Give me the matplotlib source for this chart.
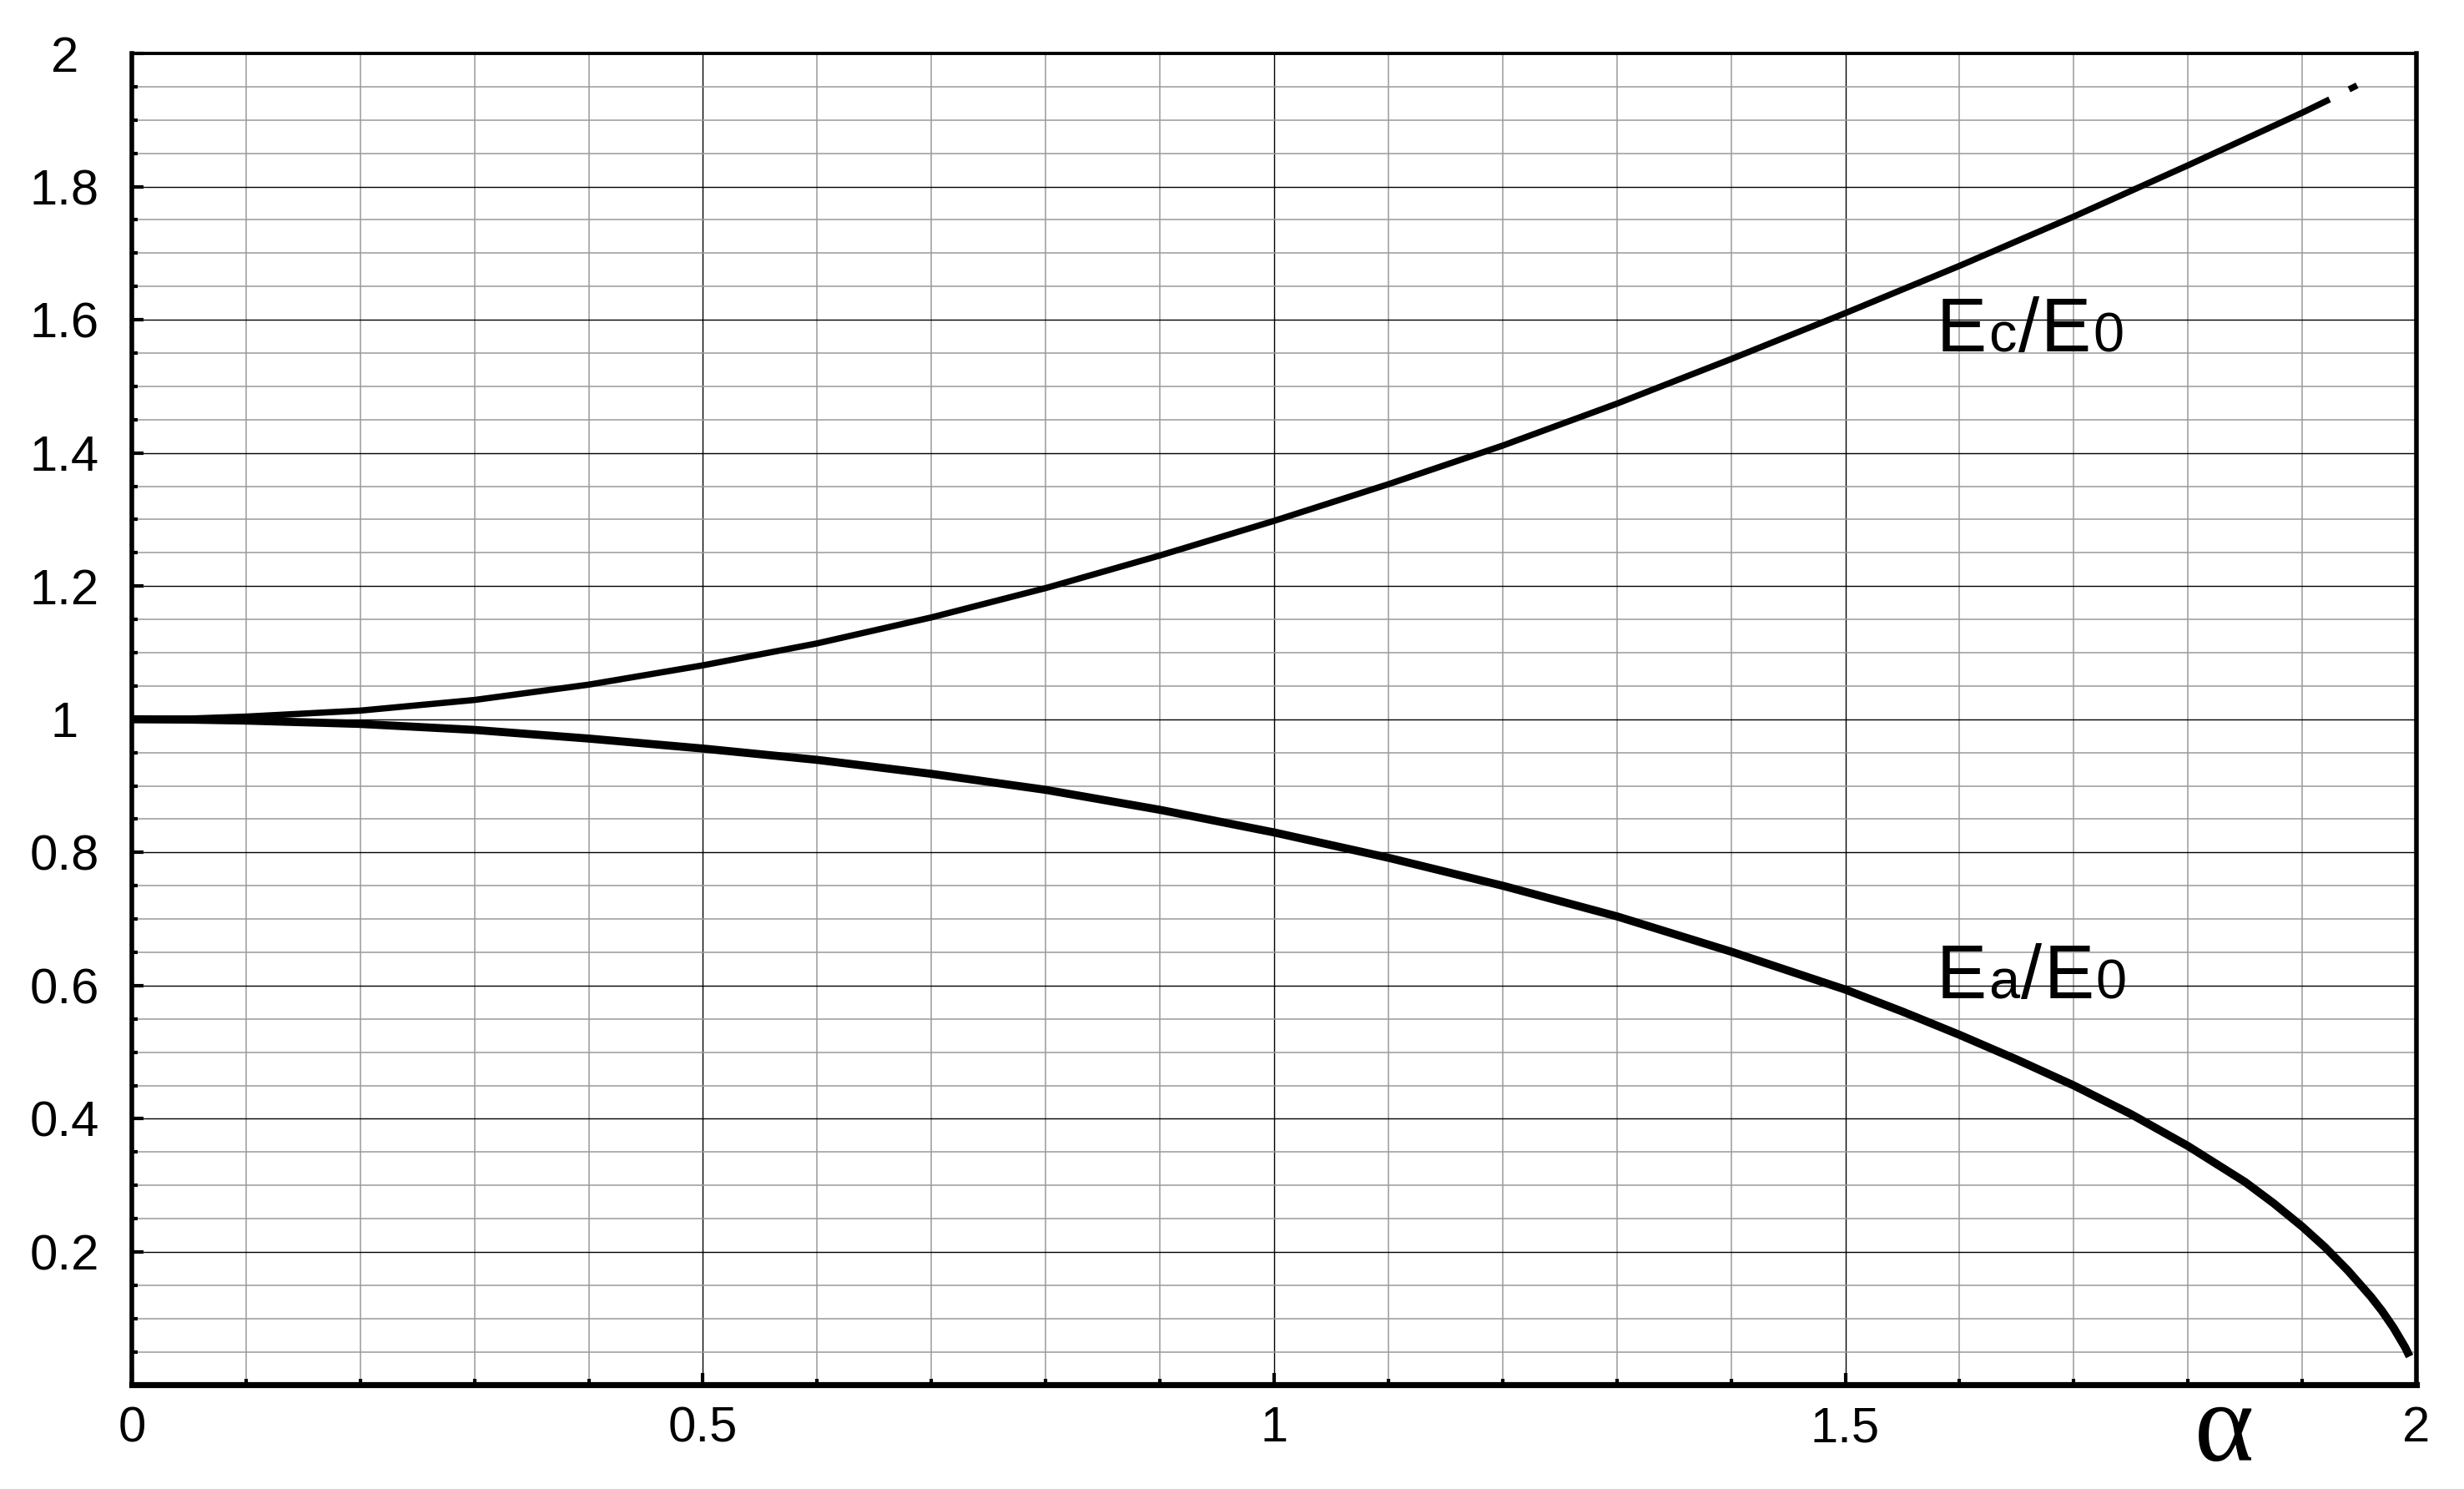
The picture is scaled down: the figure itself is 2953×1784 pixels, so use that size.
"""Ec/E0 and Ea/E0 against alpha, drawn on a fine engineering grid."""

import matplotlib.pyplot as plt
import matplotlib.transforms as mtransforms
from matplotlib.ticker import FuncFormatter, MultipleLocator

# Values
alpha_c = [0.0, 0.05, 0.1, 0.2, 0.3, 0.4, 0.5, 0.6, 0.7, 0.8, 0.9, 1.0,
           1.1, 1.2, 1.3, 1.4, 1.5, 1.6, 1.7, 1.8, 1.9, 1.924]
ec_ratio = [1.0, 1.001, 1.004, 1.013, 1.029, 1.052, 1.081, 1.114, 1.153, 1.197, 1.246, 1.298,
            1.353, 1.411, 1.474, 1.541, 1.610, 1.681, 1.755, 1.832, 1.911, 1.931]
# short stray dash after the end of the Ec curve
alpha_c_tail = [1.941, 1.948]
ec_ratio_tail = [1.946, 1.952]

alpha_a = [0.0, 0.05, 0.1, 0.2, 0.3, 0.4, 0.5, 0.6, 0.7, 0.8, 0.9, 1.0,
           1.1, 1.2, 1.3, 1.4, 1.5, 1.55, 1.6, 1.65, 1.7, 1.75, 1.8, 1.85, 1.875, 1.9,
           1.92, 1.94, 1.96, 1.97, 1.98, 1.99, 1.994]
ea_ratio = [1.0, 0.9995, 0.998, 0.993, 0.984, 0.971, 0.956, 0.939, 0.918, 0.894, 0.864, 0.830,
            0.792, 0.750, 0.704, 0.651, 0.594, 0.561, 0.526, 0.489, 0.450, 0.407, 0.359, 0.305, 0.273, 0.238,
            0.207, 0.172, 0.133, 0.111, 0.086, 0.057, 0.043]

x_ticks = [0, 0.5, 1, 1.5, 2]
y_ticks = [0.2, 0.4, 0.6, 0.8, 1, 1.2, 1.4, 1.6, 1.8, 2]

FONT = "Liberation Sans"


def draw_ratio_label(ax, x, y, parts):
    """Write a label made of pieces of different sizes on one baseline."""
    fig = ax.figure
    renderer = fig.canvas.get_renderer()
    offset = 0.0
    for text, size in parts:
        trans = mtransforms.offset_copy(ax.transData, fig=fig, x=offset, y=0, units="dots")
        t = ax.text(x, y, text, fontsize=size, family=FONT, ha="left",
                    va="baseline", transform=trans, zorder=5)
        offset += t.get_window_extent(renderer).width + 2


fig = plt.figure(figsize=(29.53, 17.84), dpi=100)
ax = fig.add_axes([0.0535, 0.0698, 0.9272, 0.8943])

ax.plot(alpha_c, ec_ratio, color="black", linewidth=5.4, solid_capstyle="butt",
        solid_joinstyle="round", zorder=3)
ax.plot(alpha_c_tail, ec_ratio_tail, color="black", linewidth=5.4, solid_capstyle="butt", zorder=3)
ax.plot(alpha_a, ea_ratio, color="black", linewidth=7.0, solid_capstyle="butt",
        solid_joinstyle="round", zorder=3)

ax.set_xlim(0, 2)
ax.set_ylim(0, 2)

ax.xaxis.set_major_locator(MultipleLocator(0.5))
ax.xaxis.set_minor_locator(MultipleLocator(0.1))
ax.yaxis.set_major_locator(MultipleLocator(0.2))
ax.yaxis.set_minor_locator(MultipleLocator(0.05))
ax.set_xticks(x_ticks)
ax.set_yticks(y_ticks)
ax.xaxis.set_major_formatter(FuncFormatter(lambda v, p: f"{v:g}"))
ax.yaxis.set_major_formatter(FuncFormatter(lambda v, p: f"{v:g}"))

ax.grid(which="minor", color="#9a9a9a", linewidth=1.1)
ax.grid(which="major", color="black", linewidth=1.0)
ax.set_axisbelow(True)

ax.tick_params(which="both", direction="in", top=False, right=False, width=3, color="black")
ax.tick_params(which="major", length=10)
ax.tick_params(which="minor", length=5)
ax.tick_params(axis="x", which="major", pad=18, labelsize=43)
ax.tick_params(axis="y", which="major", pad=58, labelsize=43)
for lbl in ax.get_xticklabels() + ax.get_yticklabels():
    lbl.set_fontfamily(FONT)
for lbl in ax.get_yticklabels():
    lbl.set_horizontalalignment("center")

ax.spines["bottom"].set_linewidth(5.2)
ax.spines["left"].set_linewidth(4)
ax.spines["right"].set_linewidth(4)
ax.spines["top"].set_linewidth(2.8)

draw_ratio_label(ax, 1.580, 1.552, [("E", 65), ("c", 48), ("/", 65), ("E", 65), ("0", 48)])
draw_ratio_label(ax, 1.580, 0.581, [("E", 65), ("a", 48), ("/", 65), ("E", 65), ("0", 48)])

fig.text(0.9025, 0.019, "\u03b1", fontsize=98, family="Liberation Serif",
         ha="center", va="baseline")

fig.savefig("out.png", dpi=100)
